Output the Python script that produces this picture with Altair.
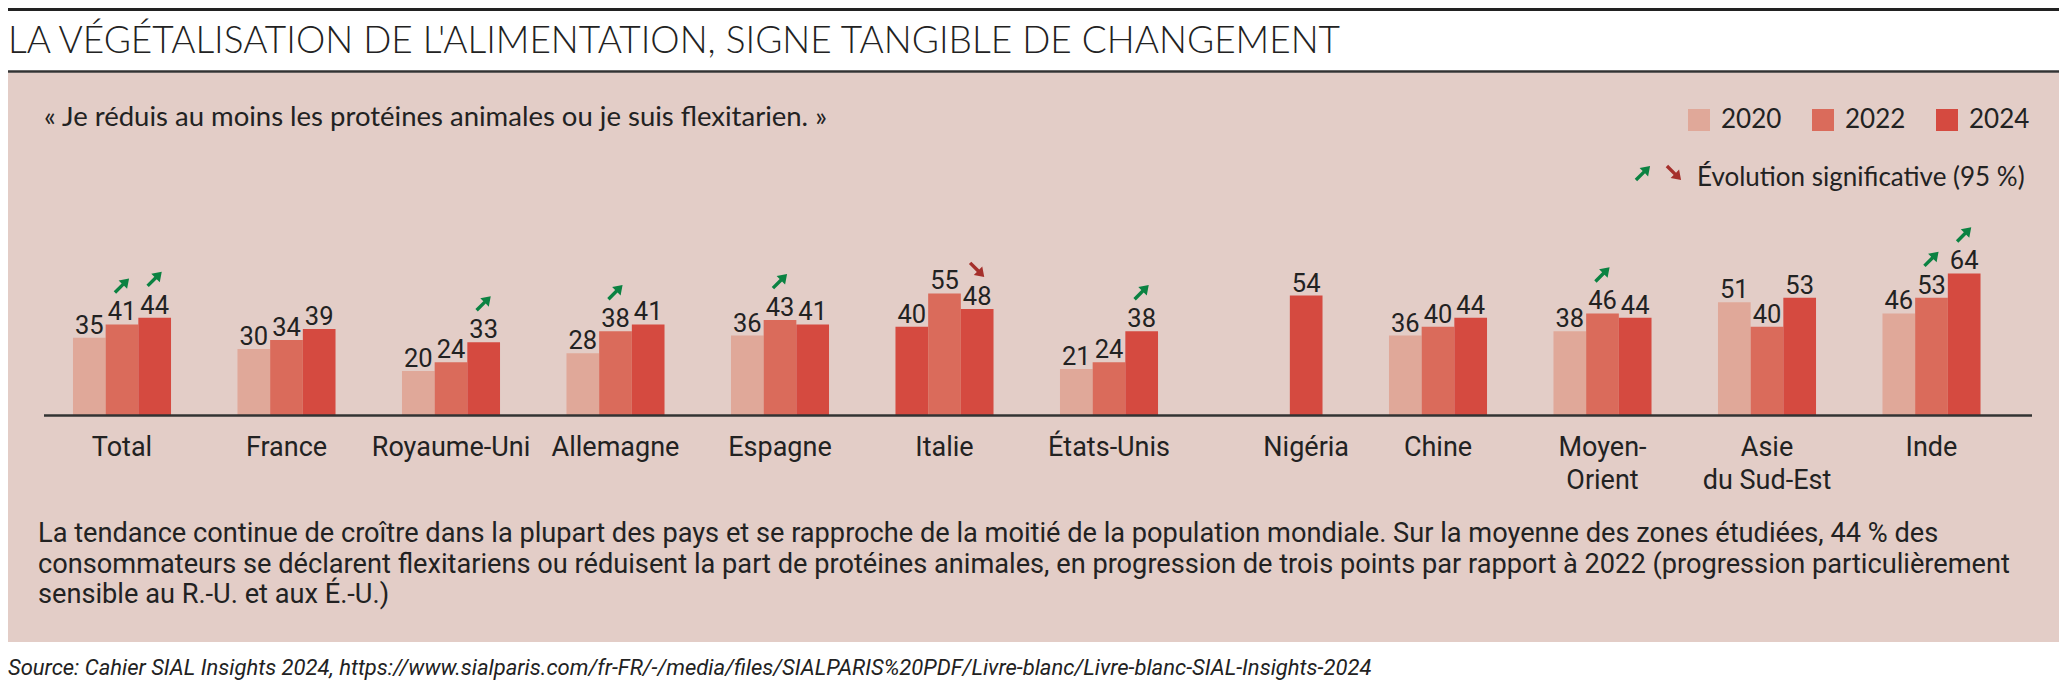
import altair as alt
import pandas as pd

# ---------------- data ----------------
countries = ["Total", "France", "Royaume-Uni", "Allemagne", "Espagne", "Italie",
             "États-Unis", "Nigéria", "Chine", "Moyen-Orient", "Asie du Sud-Est", "Inde"]
country_labels = ["Total", "France", "Royaume-Uni", "Allemagne", "Espagne", "Italie",
                  "États-Unis", "Nigéria", "Chine", "Moyen-\nOrient", "Asie\ndu Sud-Est", "Inde"]
years = ["2020", "2022", "2024"]
v2020 = [35, 30, 20, 28, 36, 40, 21, None, 36, 38, 51, 46]
v2022 = [41, 34, 24, 38, 43, 55, 24, None, 40, 46, 40, 53]
v2024 = [44, 39, 33, 41, 41, 48, 38, 54, 44, 44, 53, 64]
# significant evolution (95 %) vs previous wave: "up" / "down"
sig2022 = ["up", None, None, "up", "up", None, None, None, None, "up", None, "up"]
sig2024 = ["up", None, "up", None, None, "down", "up", None, None, None, None, "up"]
# in the source, the Italy 2020 bar is drawn in the 2024 shade
shade_override = {("Italie", "2020"): "2024"}

title = "LA VÉGÉTALISATION DE L'ALIMENTATION, SIGNE TANGIBLE DE CHANGEMENT"
subtitle = "« Je réduis au moins les protéines animales ou je suis flexitarien. »"
sig_legend = "Évolution significative (95 %)"
body_lines = [
    "La tendance continue de croître dans la plupart des pays et se rapproche de la moitié de la population mondiale. Sur la moyenne des zones étudiées, 44 % des",
    "consommateurs se déclarent flexitariens ou réduisent la part de protéines animales, en progression de trois points par rapport à 2022 (progression particulièrement",
    "sensible au R.-U. et aux É.-U.)",
]
source = "Source: Cahier SIAL Insights 2024, https://www.sialparis.com/fr-FR/-/media/files/SIALPARIS%20PDF/Livre-blanc/Livre-blanc-SIAL-Insights-2024"

# ---------------- styling ----------------
year_colors = ["#E0A899", "#DA6B5B", "#D54A40"]
PINK = "#E3CDC7"
INK = "#222222"
GREEN = "#0B8242"
DARKRED = "#A52F2B"
NARROW = "Roboto, Liberation Sans, sans-serif"
SANS = "Lato, Liberation Sans, sans-serif"
W, H = 2051, 672
ARROW = "M -1 -0.17 L 0.12 -0.17 L 0.12 -0.6 L 1 0 L 0.12 0.6 L 0.12 0.17 L -1 0.17 Z"

# ---------------- tables ----------------
bar_rows = []
for i, c in enumerate(countries):
    for y, vals in zip(years, [v2020, v2022, v2024]):
        v = vals[i]
        if v is None:
            continue
        bar_rows.append({"country": c, "year": y, "value": v,
                         "shade": shade_override.get((c, y), y)})
bars_df = pd.DataFrame(bar_rows)

sig_rows = []
for i, c in enumerate(countries):
    for y, sig, vals in [("2022", sig2022, v2022), ("2024", sig2024, v2024)]:
        if sig[i]:
            sig_rows.append({"country": c, "year": y, "value": vals[i], "dir": sig[i]})
sig_df = pd.DataFrame(sig_rows)

lab_rows = []
for i, c in enumerate(countries):
    only_2024 = v2020[i] is None and v2022[i] is None
    lab_rows.append({"country": c, "slot": "2024" if only_2024 else "2022",
                     "label": country_labels[i]})
lab_df = pd.DataFrame(lab_rows)

one = pd.DataFrame({"t": [0]})

# ---------------- scales ----------------
xsc = alt.Scale(domain=countries, range=[31.75, 2005.75], paddingInner=0.404, paddingOuter=0.202)
xosc = alt.Scale(domain=years, paddingInner=0, paddingOuter=0)
ysc = alt.Scale(domain=[0, 100], range=[407.5, 185.5], nice=False, zero=True)

X = alt.X("country:N", scale=xsc, axis=None, sort=countries)
Y = alt.Y("value:Q", scale=ysc, axis=None)

# ---------------- decorations ----------------
pink = alt.Chart(one).mark_rect(color=PINK).encode(
    x=alt.value(0), x2=alt.value(W), y=alt.value(64.5), y2=alt.value(634))
top_rule = alt.Chart(one).mark_rule(color=INK, strokeWidth=3).encode(
    x=alt.value(0), x2=alt.value(W), y=alt.value(1.5))
mid_rule = alt.Chart(one).mark_rule(color="#333333", strokeWidth=2.5).encode(
    x=alt.value(0), x2=alt.value(W), y=alt.value(63.5))
base_rule = alt.Chart(one).mark_rule(color="#333333", strokeWidth=2.5).encode(
    x=alt.value(36), x2=alt.value(2024), y=alt.value(407.5))

title_t = alt.Chart(pd.DataFrame({"t": [title]})).mark_text(
    font=SANS, fontSize=37, fontWeight=300, color=INK, align="left", baseline="alphabetic"
).encode(x=alt.value(0), y=alt.value(45), text="t:N")
sub_t = alt.Chart(pd.DataFrame({"t": [subtitle]})).mark_text(
    font=SANS, fontSize=27.5, color=INK, align="left", baseline="alphabetic"
).encode(x=alt.value(36), y=alt.value(117.5), text="t:N")
sig_t = alt.Chart(pd.DataFrame({"t": [sig_legend]})).mark_text(
    font=SANS, fontSize=26, color=INK, align="left", baseline="alphabetic"
).encode(x=alt.value(1689), y=alt.value(178), text="t:N")
sig_up = alt.Chart(one).mark_point(shape=ARROW, size=400, filled=True, opacity=1, color=GREEN,
                                   angle=315, strokeWidth=0).encode(x=alt.value(1635), y=alt.value(165))
sig_dn = alt.Chart(one).mark_point(shape=ARROW, size=400, filled=True, opacity=1, color=DARKRED,
                                   angle=45, strokeWidth=0).encode(x=alt.value(1666), y=alt.value(165))
body_t = alt.Chart(pd.DataFrame({"t": ["\n".join(body_lines)]})).mark_text(
    font=NARROW, fontSize=27.2, color=INK, align="left", baseline="alphabetic",
    lineBreak="\n", lineHeight=30.5
).encode(x=alt.value(30), y=alt.value(534), text="t:N")
source_t = alt.Chart(pd.DataFrame({"t": [source]})).mark_text(
    font=NARROW, fontSize=22, fontStyle="italic", color=INK, align="left", baseline="alphabetic"
).encode(x=alt.value(0), y=alt.value(667), text="t:N")

# ---------------- data marks ----------------
bars = alt.Chart(bars_df).mark_bar(strokeWidth=0).encode(
    x=X,
    xOffset=alt.XOffset("year:N", scale=xosc),
    y=Y,
    color=alt.Color("shade:N", scale=alt.Scale(domain=years, range=year_colors),
                    legend=alt.Legend(orient="none", legendX=1678, legendY=99,
                                      direction="horizontal", title=None,
                                      symbolType="square", symbolSize=484,
                                      symbolStrokeWidth=0, symbolOpacity=1,
                                      labelFont=SANS, labelFontSize=26, labelColor=INK,
                                      labelOffset=9, columnPadding=28, padding=0)),
)
values = alt.Chart(bars_df).mark_text(
    font=NARROW, fontSize=25.5, color=INK, dy=-4, baseline="alphabetic", align="center"
).encode(x=X, xOffset=alt.XOffset("year:N", scale=xosc), y=Y, text="value:Q")

arrows_up = alt.Chart(sig_df).transform_filter(alt.datum.dir == "up").mark_point(
    shape=ARROW, size=400, filled=True, opacity=1, color=GREEN, angle=315, strokeWidth=0, yOffset=-39
).encode(x=X, xOffset=alt.XOffset("year:N", scale=xosc), y=Y)
arrows_dn = alt.Chart(sig_df).transform_filter(alt.datum.dir == "down").mark_point(
    shape=ARROW, size=400, filled=True, opacity=1, color=DARKRED, angle=45, strokeWidth=0, yOffset=-39
).encode(x=X, xOffset=alt.XOffset("year:N", scale=xosc), y=Y)

cat_labels = alt.Chart(lab_df).mark_text(
    font=NARROW, fontSize=27, color=INK, align="center", baseline="alphabetic",
    lineBreak="\n", lineHeight=33
).encode(x=X, xOffset=alt.XOffset("slot:N", scale=xosc), y=alt.value(448), text="label:N")

chart = alt.layer(
    pink, top_rule, mid_rule, title_t, sub_t, sig_up, sig_dn, sig_t,
    bars, base_rule, values, arrows_up, arrows_dn, cat_labels, body_t, source_t
).properties(
    width=W, height=H, padding=0, background="white",
    autosize=alt.AutoSizeParams(type="none")
).configure_view(strokeWidth=0)

chart.save("out.html", embed_options={"renderer": "svg", "actions": False})
